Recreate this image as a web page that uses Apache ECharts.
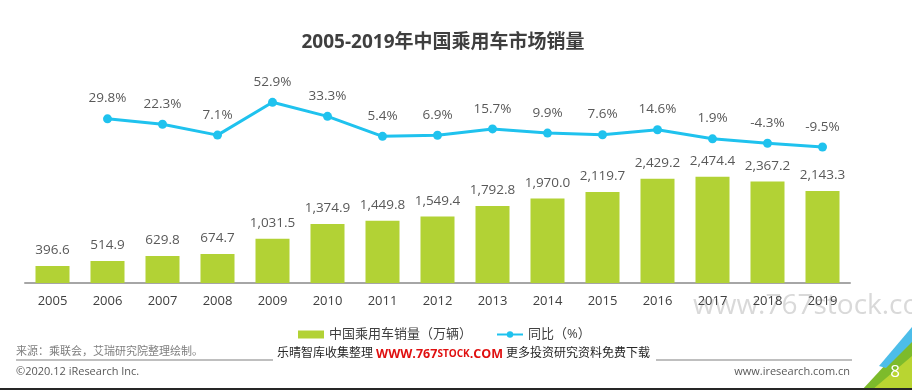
<!DOCTYPE html>
<html>
<head>
<meta charset="utf-8">
<script src="https://cdn.jsdelivr.net/npm/echarts@6/dist/echarts.min.js"></script>
<style>html,body{margin:0;padding:0;background:#fff;}#chart{width:912px;height:390px;}</style>
</head>
<body>
<div id="chart"></div>
<script>
var years = ['2005','2006','2007','2008','2009','2010','2011','2012','2013','2014','2015','2016','2017','2018','2019'];
var sales = [396.6, 514.9, 629.8, 674.7, 1031.5, 1374.9, 1449.8, 1549.4, 1792.8, 1970.0, 2119.7, 2429.2, 2474.4, 2367.2, 2143.3];
var growth = [null, 29.8, 22.3, 7.1, 52.9, 33.3, 5.4, 6.9, 15.7, 9.9, 7.6, 14.6, 1.9, -4.3, -9.5];
var seriesNames = ['中国乘用车销量（万辆）', '同比（%）'];
var titleText = '2005-2019年中国乘用车市场销量';

var FONT = "'Open Sans','Noto Sans CJK SC',sans-serif";
var chart = echarts.init(document.getElementById('chart'));
chart.setOption({
  backgroundColor: '#ffffff',
  animation: false,
  textStyle: { fontFamily: FONT },
  title: {
    text: titleText,
    left: 438, top: 38, textAlign: 'center', textVerticalAlign: 'middle',
    textStyle: { fontSize: 19, fontWeight: 'bold', color: '#3f3f3f', fontFamily: FONT }
  },
  legend: {
    left: 293, top: 323,
    itemWidth: 26, itemHeight: 8, itemGap: 24,
    textStyle: { fontSize: 13, color: '#404040', fontFamily: FONT },
    data: [
      { name: seriesNames[0], icon: 'rect' },
      { name: seriesNames[1] }
    ]
  },
  grid: { left: 25, right: 62, top: 60, bottom: 107 },
  xAxis: {
    type: 'category', data: years,
    axisLine: { lineStyle: { color: '#a6a6a6', width: 2 } },
    axisTick: { show: false },
    axisLabel: { color: '#404040', fontSize: 13, margin: 12, fontFamily: FONT }
  },
  yAxis: [
    { type: 'value', min: 0, max: 5198, show: false, splitLine: { show: false } },
    { type: 'value', min: -199.5, max: 112.0, show: false, splitLine: { show: false } }
  ],
  series: [
    {
      name: seriesNames[0], type: 'bar', data: sales, barWidth: 34,
      itemStyle: { color: '#b2d235' },
      label: {
        show: true, position: 'top', distance: 9, fontSize: 13.5, color: '#595959', fontFamily: FONT,
        formatter: function (p) { return p.value.toLocaleString('en-US', { minimumFractionDigits: 1, maximumFractionDigits: 1 }); }
      }
    },
    {
      name: seriesNames[1], type: 'line', yAxisIndex: 1, data: growth,
      symbol: 'circle', symbolSize: 9,
      lineStyle: { color: '#1fc2ee', width: 3 },
      itemStyle: { color: '#1fc2ee' },
      label: {
        show: true, position: 'top', distance: 9, fontSize: 13.5, color: '#595959', fontFamily: FONT,
        formatter: function (p) { return p.value.toFixed(1) + '%'; }
      }
    }
  ],
  graphic: [
    { type: 'text', left: 693, top: 292, z: 0, silent: true,
      style: { text: 'www.767stock.com', fontSize: 28, fontFamily: FONT, fill: 'rgba(160,160,160,0.4)' } },
    { type: 'text', x: 16, y: 352, style: { text: '来源：乘联会，艾瑞研究院整理绘制。', fontSize: 11, fill: '#7f7f7f', fontFamily: FONT, textVerticalAlign: 'middle' } },
    { type: 'line', shape: { x1: 16, y1: 360, x2: 273, y2: 360 }, style: { stroke: '#bfbfbf', lineWidth: 2 } },
    { type: 'text', x: 277, y: 354, style: {
        text: '{a|乐晴智库收集整理 }{b|WWW.767}{c|STOCK}{b|.COM}{a| 更多投资研究资料免费下载}',
        textVerticalAlign: 'middle',
        rich: {
          a: { fontSize: 12, fill: '#262626', fontFamily: FONT },
          b: { fontSize: 12.5, fill: '#e01010', fontWeight: 'bold', fontFamily: FONT },
          c: { fontSize: 10, fill: '#e01010', fontWeight: 'bold', fontFamily: FONT }
        } } },
    { type: 'line', shape: { x1: 656, y1: 360, x2: 852, y2: 360 }, style: { stroke: '#bfbfbf', lineWidth: 2 } },
    { type: 'text', x: 16, y: 372, style: { text: '©2020.12 iResearch Inc.', fontSize: 11, fill: '#595959', fontFamily: FONT, textVerticalAlign: 'middle' } },
    { type: 'text', x: 850, y: 372, style: { text: 'www.iresearch.com.cn', fontSize: 11, fill: '#595959', fontFamily: FONT, textAlign: 'right', textVerticalAlign: 'middle' } },
    { type: 'polygon', shape: { points: [[862, 390], [912, 336], [912, 390]] }, style: { fill: '#7dbb2b' } },
    { type: 'polygon', shape: { points: [[872, 390], [912, 356], [912, 390]] }, style: { fill: '#b9d531' } },
    { type: 'polygon', shape: { points: [[879, 366], [912, 327], [912, 342], [886, 368]] }, style: { fill: '#4cbde9' } },
    { type: 'text', x: 895, y: 372, style: { text: '8', fontSize: 17, fill: '#ffffff', fontFamily: FONT, textAlign: 'center', textVerticalAlign: 'middle' } },
    { type: 'line', shape: { x1: 0, y1: 389, x2: 912, y2: 389 }, style: { stroke: '#262626', lineWidth: 2 } }
  ]
});
</script>
</body>
</html>
